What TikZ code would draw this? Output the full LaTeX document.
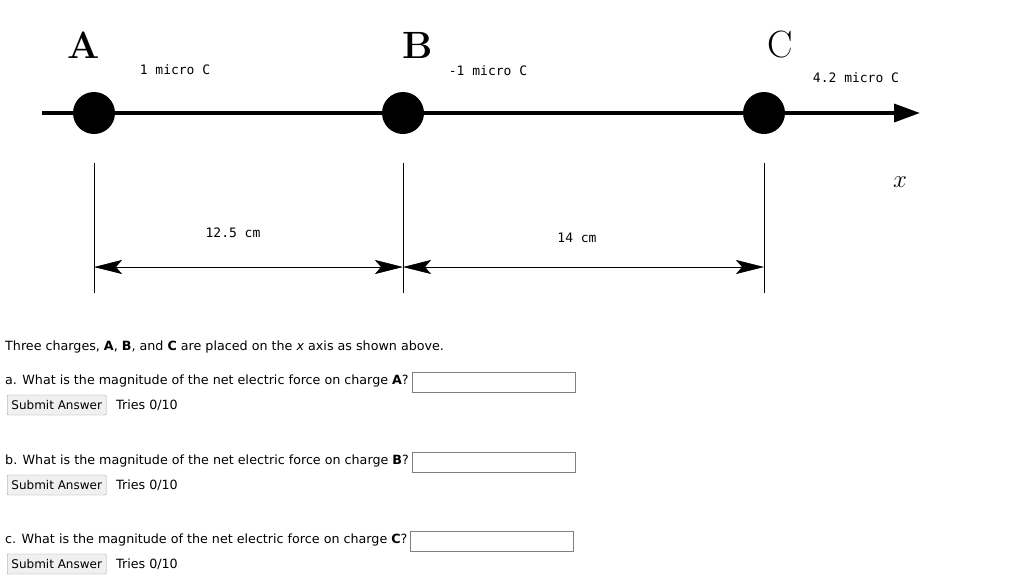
\documentclass[tikz,border=0pt]{standalone}
\usepackage{fontspec}
\setsansfont{DejaVu Sans}
\setmonofont{DejaVu Sans Mono}
\usetikzlibrary{arrows.meta}
\tikzset{
  charge/.style={circle, fill=black, minimum size=42pt, inner sep=0pt},
  clabel/.style={font=\fontsize{13}{15}\selectfont\ttfamily},
  letter/.style={font=\fontsize{38}{42}\selectfont\bfseries},
  dimline/.style={line width=0.6pt, {Stealth[length=28pt,width=14pt,inset=6pt]}-{Stealth[length=28pt,width=14pt,inset=6pt]}},
  qtext/.style={anchor=west, inner sep=0pt, font=\fontsize{12.7}{15}\selectfont\sffamily},
  answerbox/.style={draw=gray, line width=0.6pt, minimum width=163pt, minimum height=20pt, anchor=west, inner sep=0pt},
  submitbtn/.style={draw=gray!80, fill=gray!12, rounded corners=1pt, minimum width=99pt, minimum height=20pt, anchor=west, inner sep=0pt, font=\fontsize{12}{14}\selectfont\sffamily}
}
\begin{document}
\begin{tikzpicture}[x=1pt, y=-1pt]
\useasboundingbox (0,0) rectangle (1024,584);

% axis and charges
\coordinate (axstart) at (42,113);
\coordinate (axend) at (920,113);
\draw[line width=3.5pt, -{Triangle[length=26pt,width=18pt]}] (axstart) -- (axend);
\node[charge] (qA) at (94,113) {};
\node[charge] (qB) at (403,113) {};
\node[charge] (qC) at (764,113) {};
\node[letter] (lA) at (84,45) {A};
\node[letter] (lB) at (418,45) {B};
\node[letter, font=\fontsize{38}{42}\selectfont] (lC) at (780,45) {C};
\node[clabel] (vA) at (175,70) {1 micro C};
\node[clabel] (vB) at (488,71) {-1 micro C};
\node[clabel] (vC) at (856,78) {4.2 micro C};
\node[font=\fontsize{26}{28}\selectfont] (xl) at (900,182) {$x$};

% dimensions
\foreach \name/\px in {tA/94, tB/403, tC/764} {
  \coordinate (\name top) at (\px,163);
  \coordinate (\name bot) at (\px,293);
  \coordinate (\name) at (\px,267);
  \draw[line width=0.6pt] (\name top) -- (\name bot);
}
\draw[dimline] (tA) -- (tB);
\draw[dimline] (tB) -- (tC);
\node[clabel] (dAB) at (233,233) {12.5 cm};
\node[clabel] (dBC) at (577,238) {14 cm};

% questions
\node[qtext] (intro) at (5,347) {Three charges, \textbf{A}, \textbf{B}, and \textbf{C} are placed on the \textit{x} axis as shown above.};
\foreach \y/\ch/\lc/\bx in {381/A/a/412, 461/B/b/412, 540/C/c/410} {
  \node[qtext] (q\ch) at (5,\y) {\lc. What is the magnitude of the net electric force on charge \textbf{\ch}?};
  \node[answerbox] (box\ch) at (\bx,\y+1) {};
  \node[submitbtn] (btn\ch) at (7,\y+24) {Submit Answer};
  \node[qtext] (tries\ch) at (116,\y+24) {Tries 0/10};
}
\end{tikzpicture}
\end{document}
